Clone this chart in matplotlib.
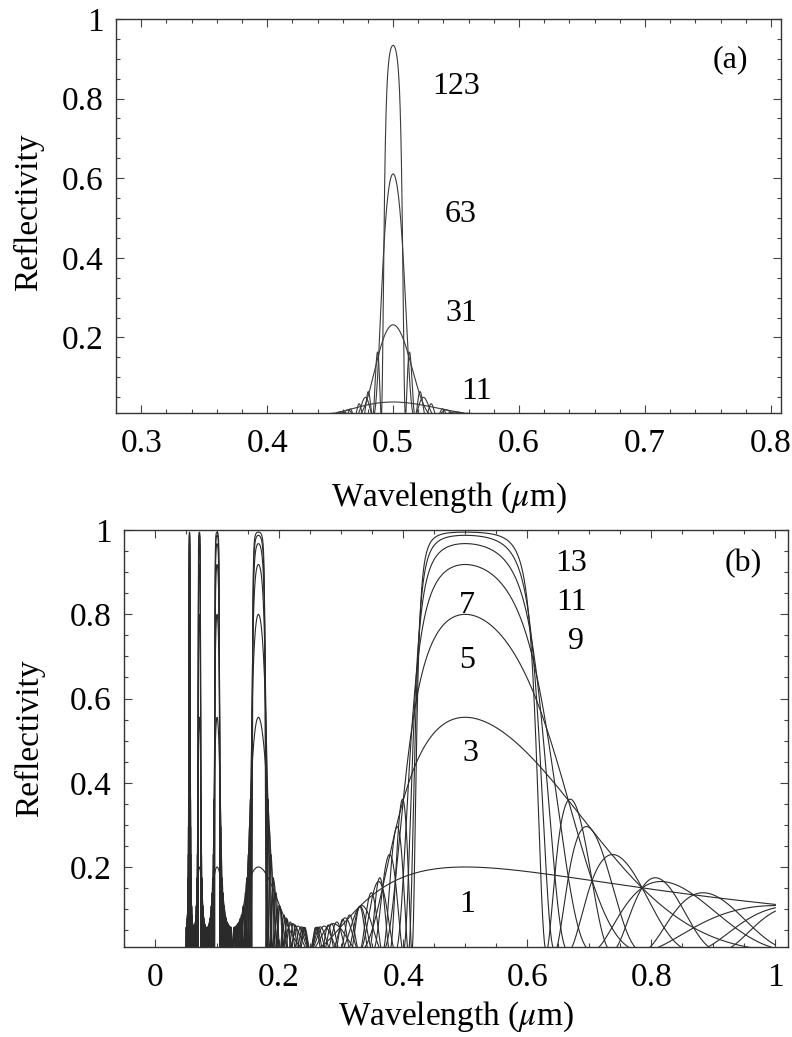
import numpy as np
import matplotlib
matplotlib.use("Agg")
import matplotlib.pyplot as plt

plt.rcParams['font.family'] = ['Liberation Serif', 'DejaVu Serif']
plt.rcParams['mathtext.fontset'] = 'stix'

# quarter-wave stacks, design wavelength (um)
lam0 = 0.5

# (a) weak index contrast, stack embedded in the low-index medium
layers_a = [11, 31, 63, 123]
n_hi_a, n_lo_a = 1.55, 1.50
lam_range_a = [0.3, 0.8]
labels_a = ['123', '63', '31', '11']
label_x_a = [0.550, 0.554, 0.554, 0.566]
label_y_a = [0.83, 0.51, 0.26, 0.065]

# (b) strong contrast, free-standing stack in air
layers_b = [1, 3, 5, 7, 9, 11, 13]
n_hi_b, n_lo_b = 1.618, 1.0
lam_range_b = [0.05, 1.0]
labels_b = ['13', '11', '9', '7', '5', '3', '1']
label_x_b = [0.671, 0.671, 0.679, 0.503, 0.503, 0.509, 0.503]
label_y_b = [0.92, 0.827, 0.736, 0.822, 0.69, 0.47, 0.11]

yticks = [0.2, 0.4, 0.6, 0.8, 1.0]
ytick_labels = ['0.2', '0.4', '0.6', '0.8', '1']
xticks_a = [0.3, 0.4, 0.5, 0.6, 0.7, 0.8]
xtick_labels_a = ['0.3', '0.4', '0.5', '0.6', '0.7', '0.8']
xticks_b = [0, 0.2, 0.4, 0.6, 0.8, 1.0]
xtick_labels_b = ['0', '0.2', '0.4', '0.6', '0.8', '1']


def reflectivity(lam, n_layers, nh, nl, n_out):
    # H L H ... H, every layer a quarter wave at lam0 -> same phase for all
    d = 0.5 * np.pi * lam0 / lam
    c, s = np.cos(d), np.sin(d)
    m11 = np.ones_like(lam, dtype=complex)
    m12 = np.zeros_like(lam, dtype=complex)
    m21 = np.zeros_like(lam, dtype=complex)
    m22 = np.ones_like(lam, dtype=complex)
    for k in range(n_layers):
        n = nh if k % 2 == 0 else nl
        a11, a12, a21, a22 = c, 1j * s / n, 1j * n * s, c
        m11, m12, m21, m22 = (m11 * a11 + m12 * a21, m11 * a12 + m12 * a22,
                              m21 * a11 + m22 * a21, m21 * a12 + m22 * a22)
    B = m11 + m12 * n_out
    C = m21 + m22 * n_out
    r = (n_out * B - C) / (n_out * B + C)
    return np.abs(r) ** 2


def style_axes(ax, xticks, xlabels, xminor, xlim):
    ax.set_xlim(xlim)
    ax.set_ylim(0.01, 1.0)
    ax.set_xticks(xticks)
    ax.set_xticklabels(xlabels)
    ax.set_yticks(yticks)
    ax.set_yticklabels(ytick_labels)
    ax.set_xticks(np.arange(xlim[0] - xlim[0] % xminor, xlim[1], xminor), minor=True)
    ax.set_yticks(np.arange(0.05, 1.0, 0.05), minor=True)
    ax.tick_params(which='both', direction='in', top=True, right=True,
                   labelsize=24, width=0.8, color='#444444')
    ax.tick_params(which='major', length=6)
    ax.tick_params(which='minor', length=3)
    ax.tick_params(axis='x', pad=11)
    ax.tick_params(axis='y', pad=9)
    for sp in ax.spines.values():
        sp.set_linewidth(1.0)
        sp.set_color('#333333')
    ax.set_xlabel(r'Wavelength ($\mu$m)', fontsize=24)
    ax.set_ylabel('Reflectivity', fontsize=24)


fig = plt.figure(figsize=(7.92, 10.37), dpi=100)

# panel (a)
ax1 = fig.add_axes([0.1465, 0.6017, 0.8396, 0.380])
lam_a = np.linspace(lam_range_a[0], lam_range_a[1], 6000)
for N in layers_a:
    ax1.plot(lam_a, reflectivity(lam_a, N, n_hi_a, n_lo_a, n_lo_a),
             color='#3a3a3a', lw=0.8)
for t, x, y in zip(labels_a, label_x_a, label_y_a):
    ax1.text(x, y, t, fontsize=23, ha='center', va='center')
ax1.text(0.768, 0.897, '(a)', fontsize=23, ha='center', va='center')
style_axes(ax1, xticks_a, xtick_labels_a, 0.02, (0.289, 0.808))
ax1.yaxis.set_label_coords(-0.108, 0.51)
ax1.xaxis.set_label_coords(0.5, -0.172)

# panel (b)
ax2 = fig.add_axes([0.1566, 0.0868, 0.838, 0.402])
lam_b = np.linspace(lam_range_b[0], lam_range_b[1], 40000)
for N in layers_b:
    ax2.plot(lam_b, reflectivity(lam_b, N, n_hi_b, n_lo_b, 1.0),
             color='#2a2a2a', lw=0.8)
for t, x, y in zip(labels_b, label_x_b, label_y_b):
    ax2.text(x, y, t, fontsize=23, ha='center', va='center')
ax2.text(0.949, 0.92, '(b)', fontsize=23, ha='center', va='center')
style_axes(ax2, xticks_b, xtick_labels_b, 0.05, (-0.02, 1.02))
ax2.yaxis.set_label_coords(-0.119, 0.5)
ax2.xaxis.set_label_coords(0.5, -0.127)

fig.savefig('out.png', dpi=100)
